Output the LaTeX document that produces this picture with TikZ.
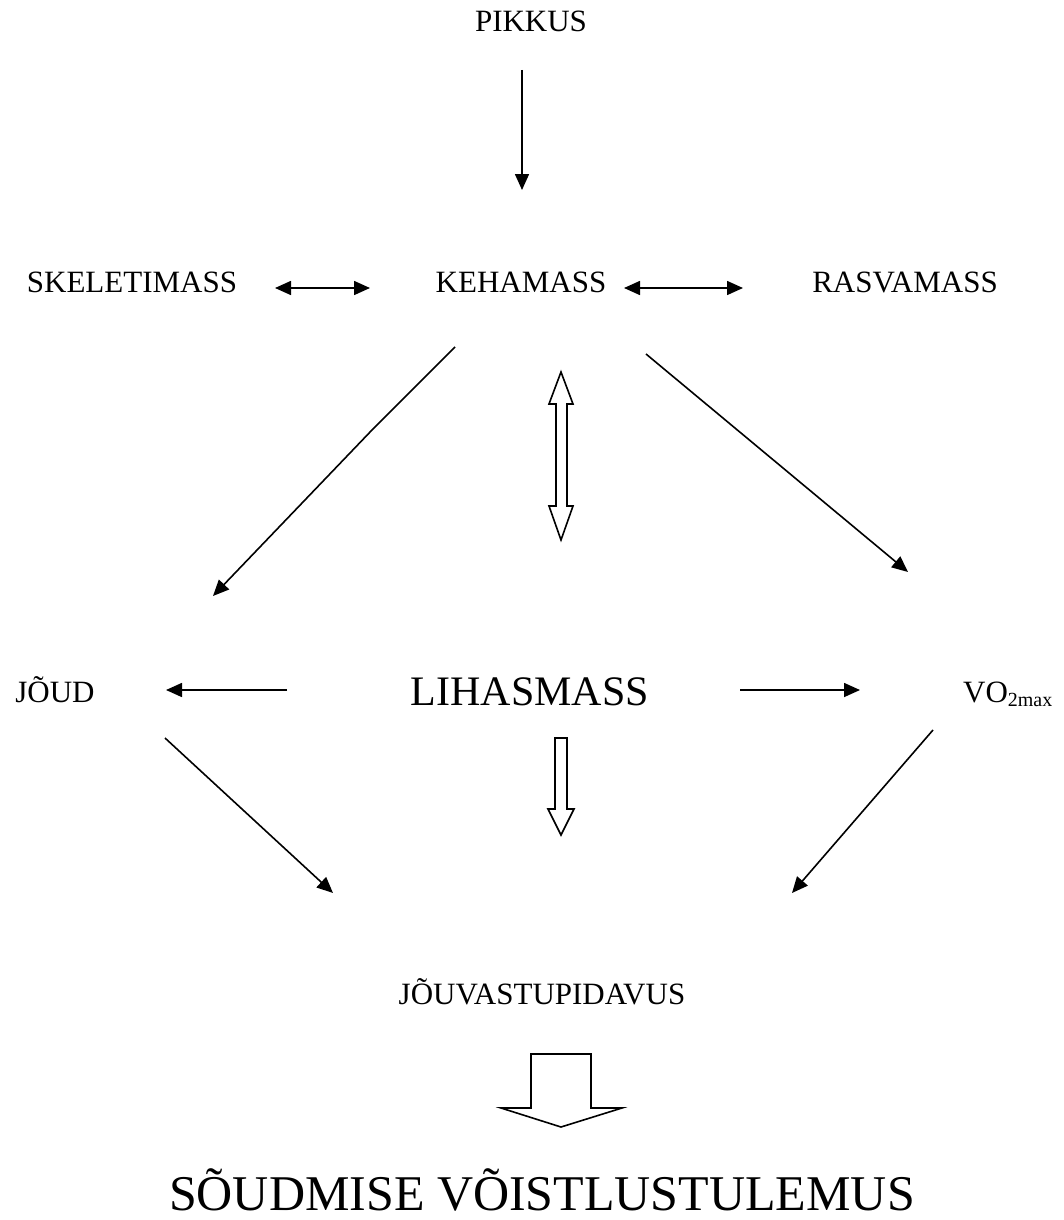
\documentclass[tikz,border=0pt]{standalone}
\usepackage{fontspec}
\setmainfont{Liberation Serif}
\usetikzlibrary{arrows.meta}
\begin{document}
\begin{tikzpicture}[x=1pt,y=-1pt,
  lbl/.style={font=\fontsize{31}{36}\selectfont, anchor=base, inner sep=0pt},
  big/.style={font=\fontsize{42}{48}\selectfont, anchor=base, inner sep=0pt},
  huge/.style={font=\fontsize{50}{58}\selectfont, anchor=base, inner sep=0pt},
  conn/.style={line width=1.6pt, -{Triangle[length=16pt,width=14pt]}},
  dconn/.style={line width=1.6pt, {Triangle[length=16pt,width=14pt]}-{Triangle[length=16pt,width=14pt]}},
  hollow/.style={line width=1.6pt, fill=white, line join=miter}]
\useasboundingbox (0,0) rectangle (1064,1220);
% labels
\node[lbl] (pik) at (531,32) {PIKKUS};
\node[lbl] (ske) at (132,292) {SKELETIMASS};
\node[lbl] (keh) at (521,292) {KEHAMASS};
\node[lbl] (ras) at (905,292) {RASVAMASS};
\node[lbl] (jou) at (55,702) {JÕUD};
\node[big] (lih) at (530,705) {LIHASMASS};
\node[lbl] (vo) at (1008,702) {VO\textsubscript{\fontsize{20}{24}\selectfont 2max}};
\node[lbl] (jv) at (542,1004) {JÕUVASTUPIDAVUS};
\node[huge] (res) at (542,1210) {SÕUDMISE VÕISTLUSTULEMUS};
% connector end points
\coordinate (p1) at (522,70);
\coordinate (p2) at (522,190);
\coordinate (s1) at (275,288);
\coordinate (s2) at (370,288);
\coordinate (r1) at (624,288);
\coordinate (r2) at (743,288);
\coordinate (kj1) at (455,347);
\coordinate (kjb) at (372,430);
\coordinate (kj2) at (213,596);
\coordinate (kv1) at (646,354);
\coordinate (kv2) at (908,572);
\coordinate (lj1) at (287,690);
\coordinate (lj2) at (166,690);
\coordinate (lv1) at (740,690);
\coordinate (lv2) at (860,690);
\coordinate (jj1) at (165,738);
\coordinate (jj2) at (333,893);
\coordinate (vj1) at (933,730);
\coordinate (vj2) at (792,893);
% connectors
\draw[conn] (p1) -- (p2);
\draw[dconn] (s1) -- (s2);
\draw[dconn] (r1) -- (r2);
\draw[conn] (kj1) -- (kjb) -- (kj2);
\draw[conn] (kv1) -- (kv2);
\draw[conn] (lj1) -- (lj2);
\draw[conn] (lv1) -- (lv2);
\draw[conn] (jj1) -- (jj2);
\draw[conn] (vj1) -- (vj2);
% hollow double arrow
\draw[hollow] (561,372) -- (573,404) -- (567,404) -- (567,506) -- (573,506) -- (561,540)
  -- (549,506) -- (556,506) -- (556,404) -- (549,404) -- cycle;
% hollow down arrow
\draw[hollow] (555,738) -- (567,738) -- (567,809) -- (574,809) -- (561,835) -- (548,809) -- (555,809) -- cycle;
% big hollow arrow
\draw[hollow] (531,1054) -- (591,1054) -- (591,1108) -- (622,1108) -- (561,1127) -- (501,1108) -- (531,1108) -- cycle;
\end{tikzpicture}
\end{document}
